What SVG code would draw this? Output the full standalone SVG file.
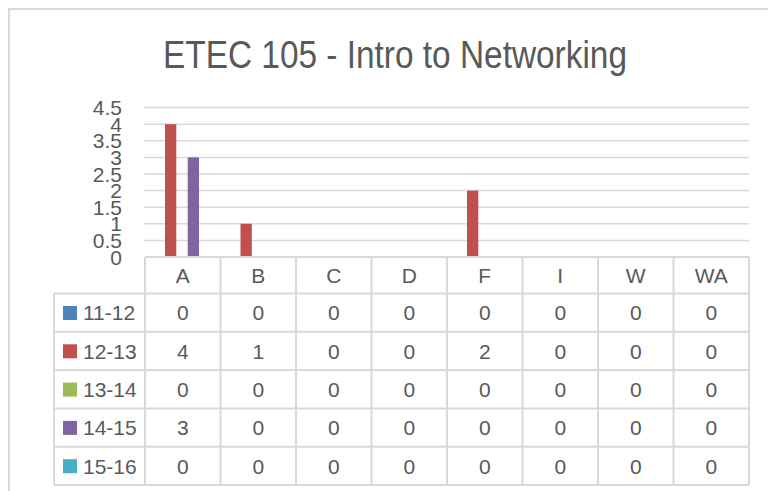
<svg xmlns="http://www.w3.org/2000/svg" width="768" height="491" viewBox="0 0 768 491">
<style>
.t{font-family:"Liberation Sans",Arial,sans-serif;fill:#595959;font-size:21px}
.c{text-anchor:middle}
.r{text-anchor:end}
.g{stroke:#D9D9D9;stroke-width:1.5;fill:none}
.tb{stroke:#D9D9D9;stroke-width:2;fill:none}
</style>
<rect x="0" y="0" width="768" height="491" fill="#FFFFFF"/>
<path d="M9 491 V9 H768" class="tb"/>
<g id="title">
<text class="t c" x="395" y="68" textLength="464" lengthAdjust="spacingAndGlyphs" style="font-size:38px">ETEC 105 - Intro to Networking</text>
</g>
<g id="gridlines" class="g">
<path d="M144 107.6H749M144 124.2H749M144 140.8H749M144 157.4H749M144 174H749M144 190.6H749M144 207.2H749M144 223.8H749M144 240.4H749"/>
</g>
<g id="yaxis">
<text class="t r" x="122" y="115">4.5</text>
<text class="t r" x="122" y="131.7">4</text>
<text class="t r" x="122" y="148.3">3.5</text>
<text class="t r" x="122" y="164.9">3</text>
<text class="t r" x="122" y="181.5">2.5</text>
<text class="t r" x="122" y="198.1">2</text>
<text class="t r" x="122" y="214.7">1.5</text>
<text class="t r" x="122" y="231.3">1</text>
<text class="t r" x="122" y="247.9">0.5</text>
<text class="t r" x="122" y="264.5">0</text>
</g>
<g id="bars">
<rect x="165" y="124.2" width="11.3" height="132.8" fill="#C0504D"/>
<rect x="187.7" y="157.4" width="11.3" height="99.6" fill="#8064A2"/>
<rect x="240.5" y="223.8" width="11.3" height="33.2" fill="#C0504D"/>
<rect x="467" y="190.6" width="11.3" height="66.4" fill="#C0504D"/>
</g>
<g id="table" class="tb">
<path d="M145 257H749M54 293.5H749M54 331.8H749M54 370.1H749M54 408.4H749M54 446.7H749M54 485H749"/>
<path d="M54 293.5V485M145 257V485M220.5 257V485M296 257V485M371.5 257V485M447 257V485M522.5 257V485M598 257V485M673.5 257V485M749 257V485"/>
</g>
<g id="header">
<text class="t c" x="182.75" y="283.3">A</text>
<text class="t c" x="258.25" y="283.3">B</text>
<text class="t c" x="333.75" y="283.3">C</text>
<text class="t c" x="409.25" y="283.3">D</text>
<text class="t c" x="484.75" y="283.3">F</text>
<text class="t c" x="560.25" y="283.3">I</text>
<text class="t c" x="635.75" y="283.3">W</text>
<text class="t c" x="711.25" y="283.3">WA</text>
</g>
<g id="legend">
<rect x="63" y="306" width="14" height="14" fill="#4F81BD"/>
<rect x="63" y="344.3" width="14" height="14" fill="#C0504D"/>
<rect x="63" y="382.6" width="14" height="14" fill="#9BBB59"/>
<rect x="63" y="420.9" width="14" height="14" fill="#8064A2"/>
<rect x="63" y="459.2" width="14" height="14" fill="#4BACC6"/>
<text class="t" x="83" y="320.4">11-12</text>
<text class="t" x="83" y="358.7">12-13</text>
<text class="t" x="83" y="397">13-14</text>
<text class="t" x="83" y="435.3">14-15</text>
<text class="t" x="83" y="473.6">15-16</text>
</g>
<g id="row-11-12">
<text class="t c" x="182.75" y="320.4">0</text><text class="t c" x="258.25" y="320.4">0</text><text class="t c" x="333.75" y="320.4">0</text><text class="t c" x="409.25" y="320.4">0</text><text class="t c" x="484.75" y="320.4">0</text><text class="t c" x="560.25" y="320.4">0</text><text class="t c" x="635.75" y="320.4">0</text><text class="t c" x="711.25" y="320.4">0</text>
</g>
<g id="row-12-13">
<text class="t c" x="182.75" y="358.7">4</text><text class="t c" x="258.25" y="358.7">1</text><text class="t c" x="333.75" y="358.7">0</text><text class="t c" x="409.25" y="358.7">0</text><text class="t c" x="484.75" y="358.7">2</text><text class="t c" x="560.25" y="358.7">0</text><text class="t c" x="635.75" y="358.7">0</text><text class="t c" x="711.25" y="358.7">0</text>
</g>
<g id="row-13-14">
<text class="t c" x="182.75" y="397">0</text><text class="t c" x="258.25" y="397">0</text><text class="t c" x="333.75" y="397">0</text><text class="t c" x="409.25" y="397">0</text><text class="t c" x="484.75" y="397">0</text><text class="t c" x="560.25" y="397">0</text><text class="t c" x="635.75" y="397">0</text><text class="t c" x="711.25" y="397">0</text>
</g>
<g id="row-14-15">
<text class="t c" x="182.75" y="435.3">3</text><text class="t c" x="258.25" y="435.3">0</text><text class="t c" x="333.75" y="435.3">0</text><text class="t c" x="409.25" y="435.3">0</text><text class="t c" x="484.75" y="435.3">0</text><text class="t c" x="560.25" y="435.3">0</text><text class="t c" x="635.75" y="435.3">0</text><text class="t c" x="711.25" y="435.3">0</text>
</g>
<g id="row-15-16">
<text class="t c" x="182.75" y="473.6">0</text><text class="t c" x="258.25" y="473.6">0</text><text class="t c" x="333.75" y="473.6">0</text><text class="t c" x="409.25" y="473.6">0</text><text class="t c" x="484.75" y="473.6">0</text><text class="t c" x="560.25" y="473.6">0</text><text class="t c" x="635.75" y="473.6">0</text><text class="t c" x="711.25" y="473.6">0</text>
</g>
</svg>
